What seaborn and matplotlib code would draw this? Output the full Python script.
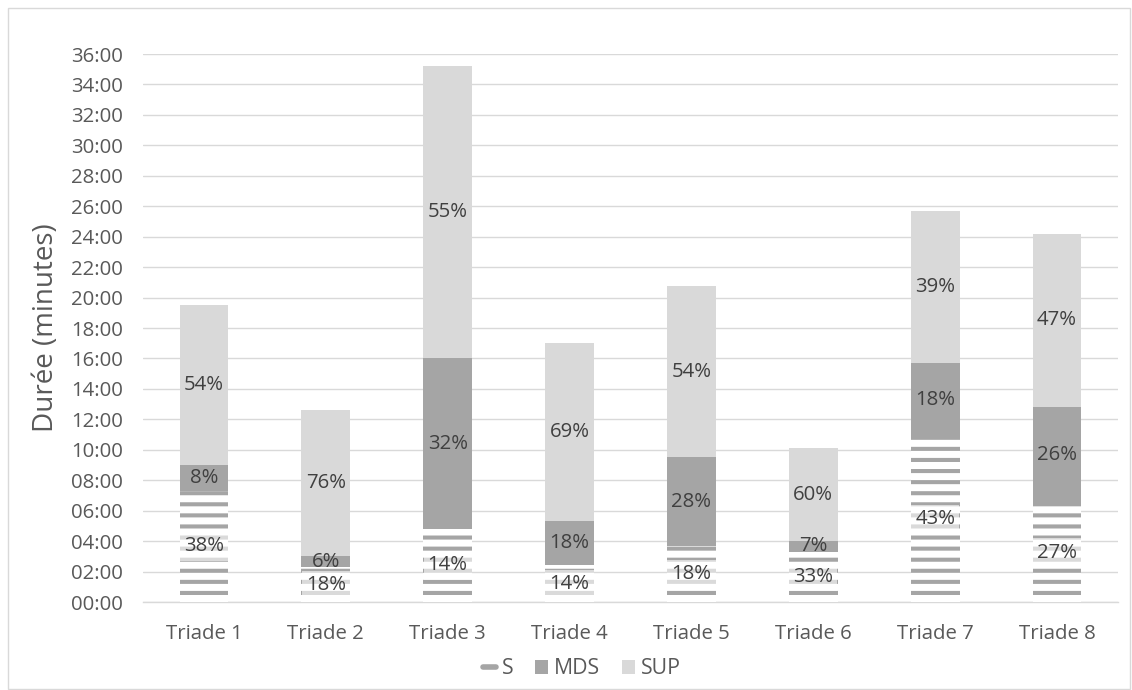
import matplotlib
matplotlib.use("Agg")
import matplotlib.pyplot as plt
import seaborn as sns
import pandas as pd
import numpy as np
from matplotlib.ticker import FuncFormatter, MultipleLocator
from matplotlib.patches import Patch, Rectangle
from matplotlib.lines import Line2D

categories = ["Triade 1", "Triade 2", "Triade 3", "Triade 4", "Triade 5", "Triade 6", "Triade 7", "Triade 8"]
s_minutes = [7.3, 2.27, 4.8, 2.4, 3.65, 3.3, 10.9, 6.5]
mds_minutes = [1.7, 0.76, 11.2, 2.95, 5.85, 0.7, 4.8, 6.3]
sup_minutes = [10.5, 9.57, 19.2, 11.65, 11.25, 6.1, 10.0, 11.4]
s_pct = ["38%", "18%", "14%", "14%", "18%", "33%", "43%", "27%"]
mds_pct = ["8%", "6%", "32%", "18%", "28%", "7%", "18%", "26%"]
sup_pct = ["54%", "76%", "55%", "69%", "54%", "60%", "39%", "47%"]

df = pd.DataFrame({"cat": categories, "S": s_minutes, "MDS": mds_minutes, "SUP": sup_minutes})
df["top_mds"] = df["S"] + df["MDS"]
df["total"] = df["top_mds"] + df["SUP"]

DPI = 400 / 3
sns.set_theme(style="white")
plt.rcParams["font.family"] = ["Open Sans", "DejaVu Sans"]
plt.rcParams["hatch.linewidth"] = 2.2

fig = plt.figure(figsize=(1132 / DPI, 690 / DPI), dpi=DPI)
ax = fig.add_axes([143 / 1132, 1 - 602 / 690, (1118 - 143) / 1132, (602 - 54) / 690])

C_S = "#A5A5A5"
C_MDS = "#A5A5A5"
C_SUP = "#D9D9D9"
W = 0.4

sns.barplot(data=df, x="cat", y="total", color=C_SUP, saturation=1, width=W,
            errorbar=None, linewidth=0, ax=ax, zorder=3)
sns.barplot(data=df, x="cat", y="top_mds", color=C_MDS, saturation=1, width=W,
            errorbar=None, linewidth=0, ax=ax, zorder=3)
sns.barplot(data=df, x="cat", y="S", color="white", saturation=1, width=W,
            errorbar=None, linewidth=0, edgecolor=C_S, hatch="--", ax=ax, zorder=3)

txt_kw = dict(ha="center", va="center", fontsize=11, color="#404040", zorder=5)
for i in range(len(categories)):
    s = df["S"][i]
    m = df["MDS"][i]
    u = df["SUP"][i]
    ax.text(i, s / 2, s_pct[i], bbox=dict(boxstyle="square,pad=0.2", fc="white", ec="none", alpha=0.6), **txt_kw)
    ax.text(i, s + m / 2, mds_pct[i], **txt_kw)
    ax.text(i, s + m + u / 2, sup_pct[i], **txt_kw)

ax.set_ylim(0, 36)
ax.set_xlim(-0.5, len(categories) - 0.5)
ax.yaxis.set_major_locator(MultipleLocator(2))
ax.yaxis.set_major_formatter(FuncFormatter(lambda v, p: f"{int(round(v)):02d}:00"))
ax.grid(axis="y", color="#D9D9D9", linewidth=0.75, zorder=0)
ax.set_axisbelow(True)
for sp in ["top", "right", "left"]:
    ax.spines[sp].set_visible(False)
ax.spines["bottom"].set_color("#D9D9D9")
ax.spines["bottom"].set_linewidth(0.75)
ax.tick_params(axis="both", length=0, labelsize=11, labelcolor="#595959")
ax.tick_params(axis="y", pad=11)
ax.tick_params(axis="x", pad=12)
ax.set_xlabel("")
ax.set_ylabel("Durée (minutes)", fontsize=15, color="#595959")
ax.yaxis.set_label_coords(-0.085, 0.5)

handles = [Line2D([0], [0], color=C_S, lw=3),
           Patch(facecolor=C_MDS, edgecolor="none"),
           Patch(facecolor=C_SUP, edgecolor="none")]
fig.legend(handles, ["S", "MDS", "SUP"], loc="center", bbox_to_anchor=(582 / 1132, 1 - 669 / 690),
           ncol=3, frameon=False, fontsize=11.5, labelcolor="#595959",
           handlelength=0.6, handleheight=0.6, handletextpad=0.3, columnspacing=1.0)

fig.patches.append(Rectangle((8 / 1132, 1 / 690), 1122 / 1132, 681 / 690, transform=fig.transFigure,
                             fill=False, edgecolor="#D9D9D9", linewidth=0.75))

fig.savefig("out.png", dpi=DPI)
